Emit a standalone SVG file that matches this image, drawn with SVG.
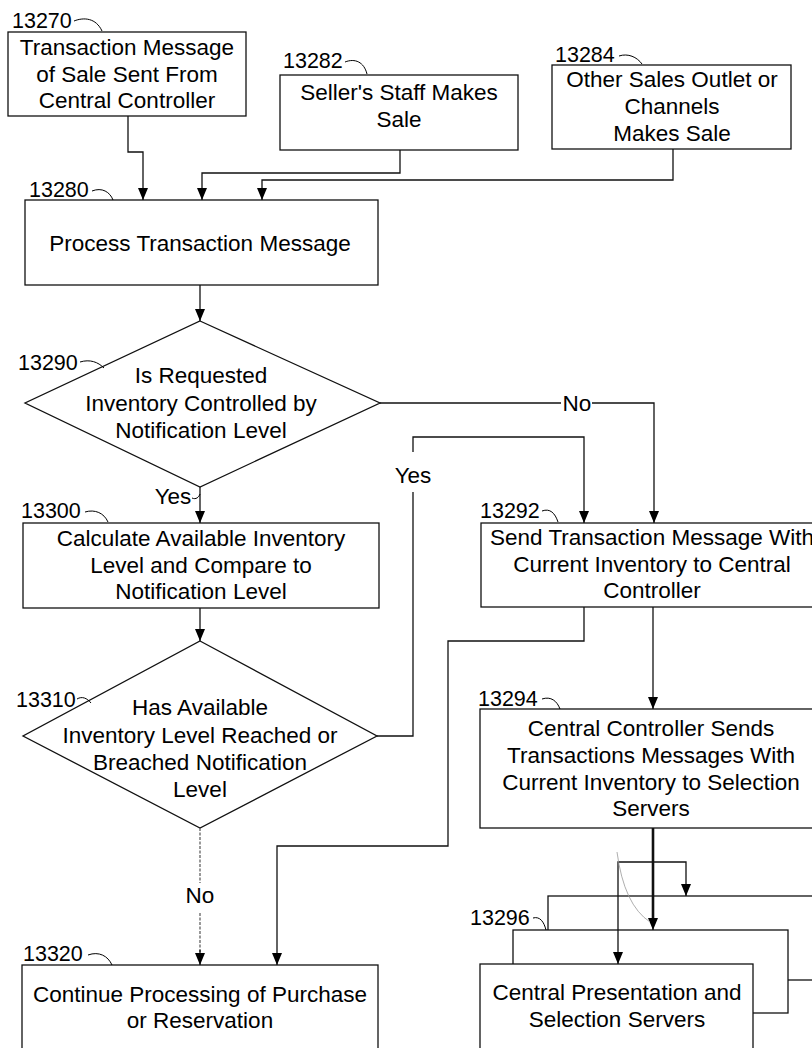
<svg xmlns="http://www.w3.org/2000/svg" width="812" height="1048" viewBox="0 0 812 1048">
<defs>
<marker id="ah" viewBox="0 0 12 10" refX="12" refY="5" markerWidth="12" markerHeight="10" markerUnits="userSpaceOnUse" orient="auto">
<path d="M0,0 L12,5 L0,10 z" fill="#000"/>
</marker>
<style>
.box{fill:#fff;stroke:#111;stroke-width:1.3}
.t{font-family:"Liberation Sans",Arial,sans-serif;font-size:22.5px;fill:#000;text-anchor:middle}
.lb{font-family:"Liberation Sans",Arial,sans-serif;font-size:21.5px;fill:#000}
.ld{fill:none;stroke:#000;stroke-width:1}
.c{fill:none;stroke:#111;stroke-width:1.3}
.ca{fill:none;stroke:#111;stroke-width:1.3;marker-end:url(#ah)}
.dot{fill:none;stroke:#555;stroke-width:1.2;stroke-dasharray:3 1.5}
</style>
</defs>
<rect width="812" height="1048" fill="#fff"/>

<g id="n13270">
<rect class="box" x="8" y="32" width="238" height="84"/>
<text class="t" x="127" y="55">Transaction Message</text>
<text class="t" x="127" y="82">of Sale Sent From</text>
<text class="t" x="127" y="108">Central Controller</text>
<text class="lb" x="12" y="28">13270</text>
<path class="ld" d="M74,21 C84,17 96,18 102,31"/>
</g>

<g id="n13282">
<rect class="box" x="280" y="75" width="238" height="75"/>
<text class="t" x="399" y="100">Seller's Staff Makes</text>
<text class="t" x="399" y="127">Sale</text>
<text class="lb" x="283" y="68">13282</text>
<path class="ld" d="M345,62 C355,58 364,62 367,74"/>
</g>

<g id="n13284">
<rect class="box" x="552" y="65" width="239" height="84"/>
<text class="t" x="672" y="87">Other Sales Outlet or</text>
<text class="t" x="672" y="114">Channels</text>
<text class="t" x="672" y="141">Makes Sale</text>
<text class="lb" x="555" y="62">13284</text>
<path class="ld" d="M619,56 C628,53 637,57 642,64"/>
</g>

<g id="n13280">
<rect class="box" x="25" y="200" width="353" height="85"/>
<text class="t" x="200" y="251">Process Transaction Message</text>
<text class="lb" x="29" y="197">13280</text>
<path class="ld" d="M92,191 C102,187 110,192 113,200"/>
</g>

<g id="n13290">
<polygon class="box" points="200,321 380,403 200,487 25,403"/>
<text class="t" x="201" y="383">Is Requested</text>
<text class="t" x="201" y="411">Inventory Controlled by</text>
<text class="t" x="201" y="438">Notification Level</text>
<text class="lb" x="18" y="370">13290</text>
<path class="ld" d="M80,362 C90,359 98,362 104,368"/>
</g>

<g id="n13300">
<rect class="box" x="23" y="523" width="356" height="85"/>
<text class="t" x="201" y="546">Calculate Available Inventory</text>
<text class="t" x="201" y="573">Level and Compare to</text>
<text class="t" x="201" y="599">Notification Level</text>
<text class="lb" x="21" y="518">13300</text>
<path class="ld" d="M85,512 C95,509 104,513 108,522"/>
</g>

<g id="n13310">
<polygon class="box" points="200,641 377,736 200,828 23,736"/>
<text class="t" x="200" y="715">Has Available</text>
<text class="t" x="200" y="743">Inventory Level Reached or</text>
<text class="t" x="200" y="770">Breached Notification</text>
<text class="t" x="200" y="797">Level</text>
<text class="lb" x="16" y="707">13310</text>
<path class="ld" d="M77,699 C82,696 87,698 91,703"/>
</g>

<g id="n13320">
<rect class="box" x="22" y="965" width="356" height="100"/>
<text class="t" x="200" y="1002">Continue Processing of Purchase</text>
<text class="t" x="200" y="1028">or Reservation</text>
<text class="lb" x="23" y="961">13320</text>
<path class="ld" d="M88,955 C99,951 108,956 112,965"/>
</g>

<g id="n13292">
<rect class="box" x="481" y="523" width="350" height="84"/>
<text class="t" x="652" y="545">Send Transaction Message With</text>
<text class="t" x="652" y="572">Current Inventory to Central</text>
<text class="t" x="652" y="598">Controller</text>
<text class="lb" x="480" y="518">13292</text>
<path class="ld" d="M542,511 C550,508 555,513 558,522"/>
</g>

<g id="n13294">
<rect class="box" x="480" y="709" width="350" height="119"/>
<text class="t" x="651" y="736">Central Controller Sends</text>
<text class="t" x="651" y="763">Transactions Messages With</text>
<text class="t" x="651" y="790">Current Inventory to Selection</text>
<text class="t" x="651" y="816">Servers</text>
<text class="lb" x="478" y="706">13294</text>
<path class="ld" d="M542,699 C551,696 557,701 560,709"/>
</g>

<g id="n13296">
<rect class="box" x="548" y="896" width="300" height="84"/>
<rect class="box" x="513" y="930" width="275" height="83"/>
<rect class="box" x="480" y="964" width="273" height="100"/>
<text class="t" x="617" y="1000">Central Presentation and</text>
<text class="t" x="617" y="1027">Selection Servers</text>
<text class="lb" x="470" y="925">13296</text>
<path class="ld" d="M533,918 C540,916 544,922 546,930"/>
</g>

<g id="connectors">
<path class="ca" d="M128,116 V152 H143 V200"/>
<path class="ca" d="M400,150 V173 H202 V200"/>
<path class="ca" d="M673,149 V180 H262 V200"/>
<path class="ca" d="M200,285 V321"/>
<path class="c" d="M380,403 H561"/>
<path class="ca" d="M592,403 H654 V523"/>
<text class="t" x="577" y="411">No</text>
<path class="ca" d="M200,487 V523"/>
<text class="t" x="173" y="504">Yes</text>
<path class="ld" d="M192,498 C196,500 199,497 200,494"/>
<path class="ca" d="M200,608 V641"/>
<path class="c" d="M377,736 H413 V492"/>
<path class="ca" d="M413,452 V437 H584 V523"/>
<text class="t" x="413" y="483">Yes</text>
<path class="dot" d="M200,828 V883"/>
<path class="dot" d="M200,913 V952"/>
<path class="ca" d="M200,950 V965"/>
<text class="t" x="200" y="903">No</text>
<path class="ca" d="M584,607 V641 H448 V846 H277 V965"/>
<path class="ca" d="M653,607 V709"/>
<path fill="none" stroke="#111" stroke-width="2.6" d="M653,828 V920"/>
<path class="ca" d="M653,915 V930"/>
<path class="ca" d="M653,862 H618 V964"/>
<path class="ca" d="M653,862 H686 V896"/>
<path fill="none" stroke="#999" stroke-width="0.8" d="M617,852 Q624,905 650,922"/>
</g>
</svg>
